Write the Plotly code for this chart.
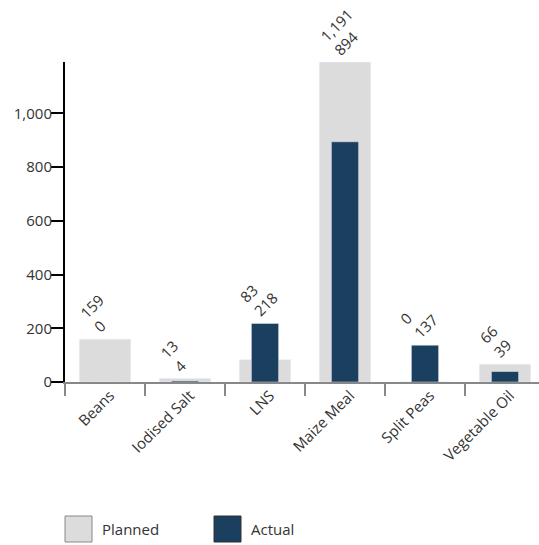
import plotly.graph_objects as go

categories = ["Beans", "Iodised Salt", "LNS", "Maize Meal", "Split Peas", "Vegetable Oil"]
planned = [159, 13, 83, 1191, 0, 66]
actual = [0, 4, 218, 894, 137, 39]
y_ticks = [0, 200, 400, 600, 800, 1000]
y_tick_labels = ["0", "200", "400", "600", "800", "1,000"]

PLANNED_COLOR = "#dcdcdc"
ACTUAL_COLOR = "#1b3f5f"
FONT = "Open Sans"
TEXT_COLOR = "#333333"

W, H = 539, 545
ML, MR, MT, MB = 65, 0, 62, 163
PW = W - ML - MR
PH = H - MT - MB

fig = go.Figure()
fig.add_trace(go.Bar(x=categories, y=planned, name="Planned", marker_color=PLANNED_COLOR,
                     width=0.64, showlegend=False, hoverinfo="x+y"))
fig.add_trace(go.Bar(x=categories, y=actual, name="Actual", marker_color=ACTUAL_COLOR,
                     width=0.34, showlegend=False, hoverinfo="x+y"))

for c, p, a in zip(categories, planned, actual):
    fig.add_annotation(x=c, y=max(p, a), xref="x", yref="y",
                       text=f"{p:,}<br>{a:,}", showarrow=False, textangle=-45,
                       align="left", xanchor="left", yanchor="bottom",
                       xshift=-32, yshift=0,
                       font=dict(family=FONT, size=15, color=TEXT_COLOR))

def px_x(px):
    return (px - ML) / PW

def px_y(py):
    return (H - MB - py) / PH

legend_items = [("Planned", PLANNED_COLOR, "#888888", 65), ("Actual", ACTUAL_COLOR, "#333333", 214)]
for name, fill, border, x0 in legend_items:
    fig.add_shape(type="rect", xref="paper", yref="paper",
                  x0=px_x(x0), x1=px_x(x0 + 27), y0=px_y(542), y1=px_y(516),
                  fillcolor=fill, line=dict(color=border, width=1))
    fig.add_annotation(xref="paper", yref="paper", x=px_x(x0 + 35), y=px_y(529),
                       text=name, showarrow=False, xanchor="left", yanchor="middle",
                       font=dict(family=FONT, size=15, color=TEXT_COLOR))

fig.update_layout(
    width=W, height=H,
    margin=dict(l=ML, r=MR, t=MT, b=MB, pad=0),
    barmode="overlay",
    plot_bgcolor="white", paper_bgcolor="white",
    font=dict(family=FONT, size=15, color=TEXT_COLOR),
    showlegend=False,
    xaxis=dict(range=[-0.5, -0.5 + PW / 80], type="category", tickson="boundaries",
               ticks="outside", ticklen=12, tickwidth=2, tickcolor="#888888",
               showline=True, linecolor="#888888", linewidth=2,
               tickangle=-45, showgrid=False, zeroline=False,
               ticklabelshift=5, ticklabelstandoff=-3,
               tickfont=dict(family=FONT, size=15, color=TEXT_COLOR)),
    yaxis=dict(range=[0, 1191], tickvals=y_ticks, ticktext=y_tick_labels,
               ticks="outside", ticklen=12, tickwidth=2, tickcolor="black",
               showline=True, linecolor="black", linewidth=2,
               showgrid=False, zeroline=False, ticklabelstandoff=-4,
               tickfont=dict(family=FONT, size=15, color=TEXT_COLOR)),
)

fig.write_html("out.html")
